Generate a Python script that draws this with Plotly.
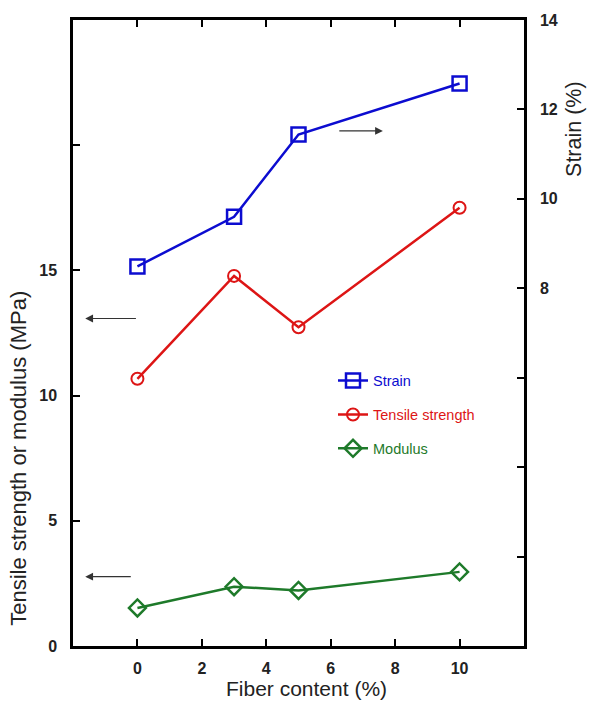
import plotly.graph_objects as go

fiber = [0, 3, 5, 10]
strain = [8.49, 9.6, 11.44, 12.58]
tensile = [10.67, 14.78, 12.73, 17.5]
modulus = [1.52, 2.37, 2.22, 2.96]

x_ticks = [0, 2, 4, 6, 8, 10]
y_ticks = [0, 5, 10, 15, 20, 25]
y_ticktext = ["0", "5", "10", "15", "", ""]
y2_ticks = [0, 2, 4, 6, 8, 10, 12, 14]
y2_ticktext = ["", "", "", "", "8", "10", "12", "14"]

# arrows: (x_head, y_head, x_tail, y_tail) in left-axis data units
arrows = [
    (-1.62, 13.08, 0.0, 13.08),
    (-1.62, 2.77, -0.16, 2.77),
    (7.62, 20.57, 6.22, 20.57),
]

BLUE = "#0c0cd0"
RED = "#dd1515"
GREEN = "#1e7a2a"
FONT = "Arial, Liberation Sans, sans-serif"

fig = go.Figure()
fig.add_trace(go.Scatter(
    x=fiber, y=strain, yaxis="y2", mode="lines+markers",
    name=f"<span style='color:{BLUE}'>Strain</span>", legendgroup="a",
    line=dict(color=BLUE, width=2.5),
    marker=dict(symbol="square-open", size=14, color=BLUE, line=dict(width=2.5, color=BLUE)),
))
fig.add_trace(go.Scatter(
    x=fiber, y=tensile, mode="lines+markers",
    name=f"<span style='color:{RED}'>Tensile strength</span>", legendgroup="b",
    line=dict(color=RED, width=2.5),
    marker=dict(symbol="circle-open", size=12, color=RED, line=dict(width=2, color=RED)),
))
fig.add_trace(go.Scatter(
    x=fiber, y=modulus, mode="lines+markers",
    name=f"<span style='color:{GREEN}'>Modulus</span>", legendgroup="c",
    line=dict(color=GREEN, width=2.5),
    marker=dict(symbol="diamond-open", size=13, color=GREEN, line=dict(width=2.5, color=GREEN)),
))

annotations = []
for xh, yh, xt, yt in arrows:
    annotations.append(dict(
        x=xh, y=yh, ax=xt, ay=yt, xref="x", yref="y", axref="x", ayref="y",
        text="", showarrow=True, arrowhead=2, arrowsize=1.3, arrowwidth=1.2,
        arrowcolor="#333333",
    ))

L, R, T, B = 73, 65, 14, 58
W, H = 589, 704
pw, ph = W - L - R, H - T - B


def px2paper(px, py):
    return (px - L) / pw, (H - B - py) / ph


lx, ly = px2paper(19, 457)
annotations.append(dict(text="Tensile strength or modulus (MPa)", x=lx, y=ly,
                        xref="paper", yref="paper", showarrow=False, textangle=-90,
                        font=dict(family=FONT, size=22, color="#222222"),
                        xanchor="center", yanchor="middle"))
rx, ry = px2paper(574, 124)
annotations.append(dict(text="Strain (%)", x=rx, y=ry,
                        xref="paper", yref="paper", showarrow=False, textangle=-90,
                        font=dict(family=FONT, size=21.5, color="#222222"),
                        xanchor="center", yanchor="middle"))
bx, by = px2paper(306, 689)
annotations.append(dict(text="Fiber content (%)", x=bx, y=by,
                        xref="paper", yref="paper", showarrow=False,
                        font=dict(family=FONT, size=21, color="#222222"),
                        xanchor="center", yanchor="middle"))

tickfont = dict(family=FONT, size=16, color="#222222", weight="bold")

lgx, lgy = px2paper(333, 362)

fig.update_layout(
    width=W, height=H,
    margin=dict(l=L, r=R, t=T, b=B, pad=0),
    paper_bgcolor="white", plot_bgcolor="white",
    showlegend=True,
    legend=dict(x=lgx, y=lgy, xanchor="left", yanchor="top",
                font=dict(family=FONT, size=14.5),
                bgcolor="rgba(0,0,0,0)", tracegroupgap=12, traceorder="grouped"),
    xaxis=dict(range=[-2, 12], tickvals=x_ticks, ticks="inside", ticklen=7, tickwidth=2,
               tickcolor="black", showline=True, linecolor="black", linewidth=2.5,
               mirror="ticks", showgrid=False, zeroline=False, tickfont=tickfont,
               ticklabelstandoff=6),
    yaxis=dict(range=[0, 25], tickvals=y_ticks, ticktext=y_ticktext, ticks="inside",
               ticklen=7, tickwidth=2, tickcolor="black", showline=True,
               linecolor="black", linewidth=2.5, showgrid=False, zeroline=False,
               tickfont=tickfont, ticklabelstandoff=10),
    yaxis2=dict(range=[0, 14], tickvals=y2_ticks, ticktext=y2_ticktext, ticks="inside",
                ticklen=7, tickwidth=2, tickcolor="black", showline=True,
                linecolor="black", linewidth=2.5, showgrid=False, zeroline=False,
                overlaying="y", side="right", tickfont=tickfont, ticklabelstandoff=10),
    annotations=annotations,
)

fig.write_html("out.html")
